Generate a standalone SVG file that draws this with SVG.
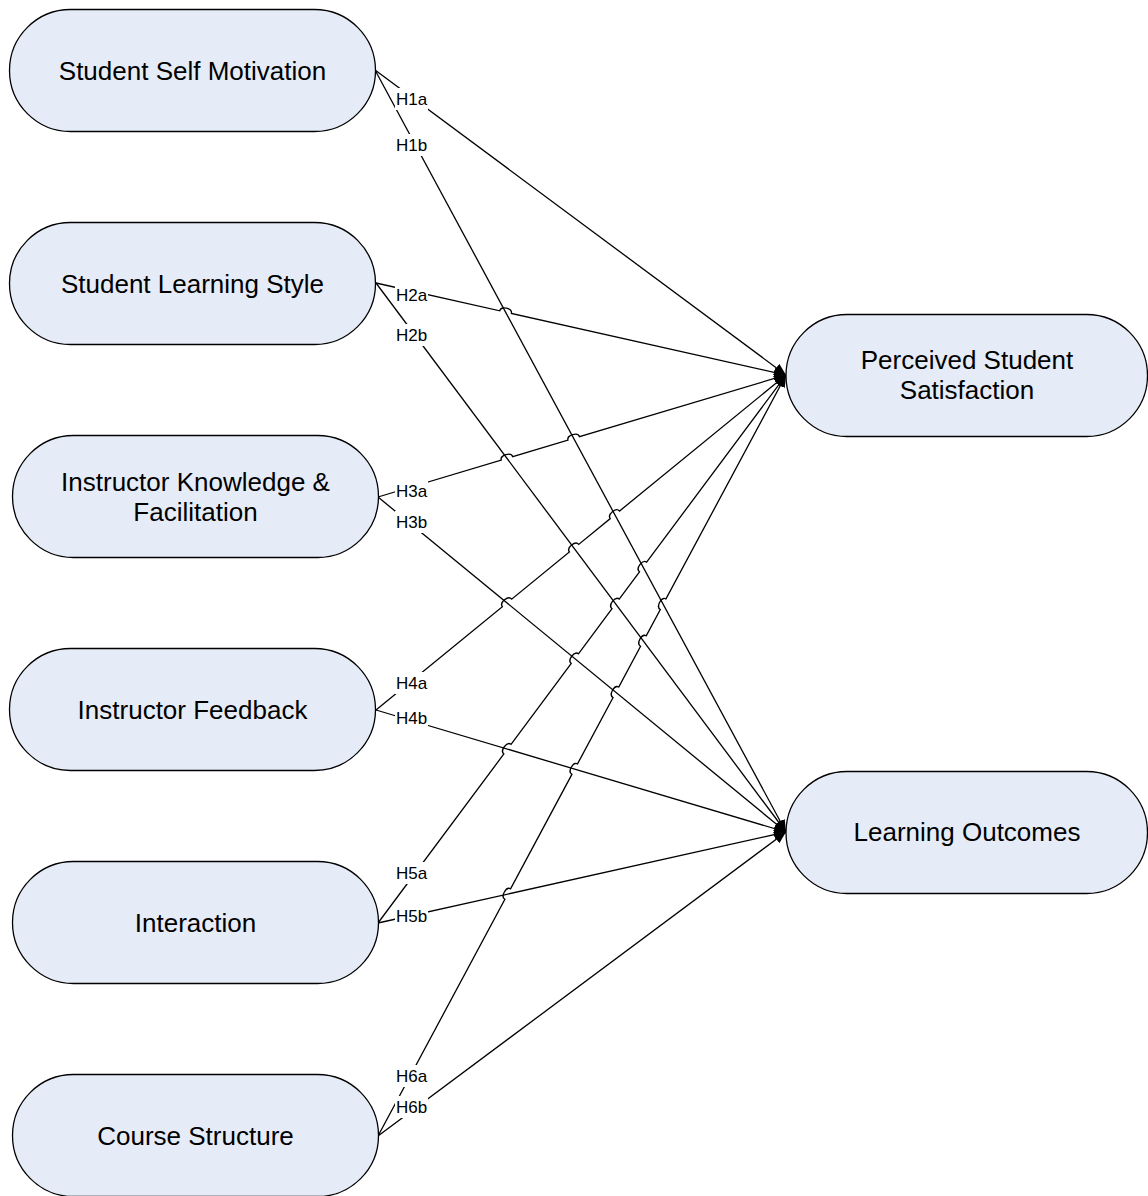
<svg xmlns="http://www.w3.org/2000/svg" width="1148" height="1196" viewBox="0 0 1148 1196">
<defs>
<style>
.node{fill:#E6ECF7;stroke:#000;stroke-width:1.3}
.t{font-family:"Liberation Sans",Arial,sans-serif;font-size:26px;fill:#000;text-anchor:middle}
.c{fill:none;stroke:#000;stroke-width:1.3;marker-end:url(#arr)}
.lb{fill:#fff;stroke:none}
.lt{font-family:"Liberation Sans",Arial,sans-serif;font-size:17px;fill:#000;text-anchor:middle}
</style>
<marker id="arr" markerUnits="userSpaceOnUse" markerWidth="14" markerHeight="12" refX="12" refY="5" orient="auto">
<path d="M0,0 L12,5 L0,10 z" fill="#000"/>
</marker>
</defs>
<rect width="1148" height="1196" fill="#fff"/>
<g id="connectors">
<line class="c" x1="375" y1="70" x2="786" y2="375"/>
<line class="c" x1="375" y1="70" x2="786" y2="832"/>
<path class="c" transform="translate(376 283) rotate(12.65)" d="M0,0 H126.79 C126.79,-5.3 138.79,-5.3 138.79,0 H420.2"/>
<line class="c" x1="376" y1="283" x2="786" y2="832"/>
<path class="c" transform="translate(378 497) rotate(-16.65)" d="M0,0 H128.65 C128.65,-5.3 140.65,-5.3 140.65,0 H198.31 C198.31,-5.3 210.31,-5.3 210.31,0 H425.85"/>
<line class="c" x1="378" y1="497" x2="786" y2="832"/>
<path class="c" transform="translate(376 710) rotate(-39.25)" d="M0,0 H163.2 C163.2,-5.3 175.2,-5.3 175.2,0 H249.74 C249.74,-5.3 261.74,-5.3 261.74,0 H302.52 C302.52,-5.3 314.52,-5.3 314.52,0 H529.46"/>
<line class="c" x1="376" y1="710" x2="786" y2="832"/>
<path class="c" transform="translate(378 923) rotate(-53.33)" d="M0,0 H210.78 C210.78,-5.3 222.78,-5.3 222.78,0 H323.61 C323.61,-5.3 335.61,-5.3 335.61,0 H391.89 C391.89,-5.3 403.89,-5.3 403.89,0 H437.85 C437.85,-5.3 449.85,-5.3 449.85,0 H683.2"/>
<line class="c" x1="378" y1="923" x2="786" y2="832"/>
<path class="c" transform="translate(378 1136) rotate(-61.8)" d="M0,0 H268.51 C268.51,-5.3 280.51,-5.3 280.51,0 H410.28 C410.28,-5.3 422.28,-5.3 422.28,0 H497.44 C497.44,-5.3 509.44,-5.3 509.44,0 H555.63 C555.63,-5.3 567.63,-5.3 567.63,0 H597.43 C597.43,-5.3 609.43,-5.3 609.43,0 H863.47"/>
<line class="c" x1="378" y1="1136" x2="786" y2="832"/>
</g>
<g id="labels">
<rect class="lb" x="395" y="88" width="33" height="22"/><text class="lt" x="411.5" y="105">H1a</text>
<rect class="lb" x="395" y="134" width="33" height="22"/><text class="lt" x="411.5" y="151">H1b</text>
<rect class="lb" x="395" y="284" width="33" height="22"/><text class="lt" x="411.5" y="301">H2a</text>
<rect class="lb" x="395" y="324" width="33" height="22"/><text class="lt" x="411.5" y="341">H2b</text>
<rect class="lb" x="395" y="480" width="33" height="22"/><text class="lt" x="411.5" y="497">H3a</text>
<rect class="lb" x="395" y="511" width="33" height="22"/><text class="lt" x="411.5" y="528">H3b</text>
<rect class="lb" x="395" y="672" width="33" height="22"/><text class="lt" x="411.5" y="689">H4a</text>
<rect class="lb" x="395" y="707" width="33" height="22"/><text class="lt" x="411.5" y="724">H4b</text>
<rect class="lb" x="395" y="862" width="33" height="22"/><text class="lt" x="411.5" y="879">H5a</text>
<rect class="lb" x="395" y="905" width="33" height="22"/><text class="lt" x="411.5" y="922">H5b</text>
<rect class="lb" x="395" y="1065" width="33" height="22"/><text class="lt" x="411.5" y="1082">H6a</text>
<rect class="lb" x="395" y="1096" width="33" height="22"/><text class="lt" x="411.5" y="1113">H6b</text>
</g>
<g id="n1"><rect class="node" x="9.5" y="9.5" width="366" height="122" rx="61"/><text class="t" x="192.5" y="80">Student Self Motivation</text></g>
<g id="n2"><rect class="node" x="9.5" y="222.5" width="366" height="122" rx="61"/><text class="t" x="192.5" y="293">Student Learning Style</text></g>
<g id="n3"><rect class="node" x="12.5" y="435.5" width="366" height="122" rx="61"/><text class="t" x="195.5" y="491">Instructor Knowledge &amp;</text><text class="t" x="195.5" y="521">Facilitation</text></g>
<g id="n4"><rect class="node" x="9.5" y="648.5" width="366" height="122" rx="61"/><text class="t" x="192.5" y="719">Instructor Feedback</text></g>
<g id="n5"><rect class="node" x="12.5" y="861.5" width="366" height="122" rx="61"/><text class="t" x="195.5" y="932">Interaction</text></g>
<g id="n6"><rect class="node" x="12.5" y="1074.5" width="366" height="122" rx="61"/><text class="t" x="195.5" y="1145">Course Structure</text></g>
<g id="n7"><rect class="node" x="786" y="314.5" width="361.5" height="122" rx="61"/><text class="t" x="967" y="369">Perceived Student</text><text class="t" x="967" y="399">Satisfaction</text></g>
<g id="n8"><rect class="node" x="786" y="771.5" width="361.5" height="122" rx="61"/><text class="t" x="967" y="841">Learning Outcomes</text></g>
</svg>
